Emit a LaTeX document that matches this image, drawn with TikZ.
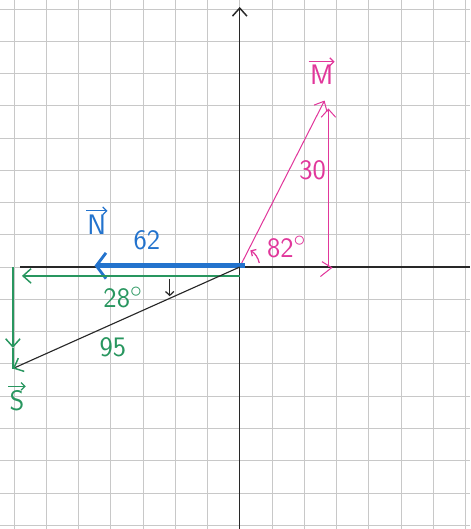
\documentclass[tikz,border=0pt]{standalone}
\usetikzlibrary{arrows.meta}
\definecolor{penblue}{RGB}{35,115,205}
\definecolor{pengreen}{RGB}{40,150,95}
\definecolor{penpink}{RGB}{225,55,155}
\definecolor{pengrid}{RGB}{200,200,200}
\definecolor{penblack}{RGB}{40,40,40}

\begin{document}
\begin{tikzpicture}[x=1cm, y=0.983cm,
    barb/.style={-{Straight Barb[length=2.5mm, width=4.5mm]}},
    vecbar/.style={line width=1.1pt, -{Straight Barb[length=1.2mm, width=2.4mm]}},
    lbl/.style={font=\Huge\sffamily, inner sep=1pt}]
    \useasboundingbox (-7.43,-8.26) rectangle (7.15,8.42);
    % Graph paper
    \draw[pengrid, line width=0.6pt] (-7.43,-8.26) grid (7.15,8.42);

    % Axes
    \coordinate (O) at (0,0);
    \coordinate (xl) at (-6.8,0); \coordinate (xr) at (7.15,0);
    \coordinate (yb) at (0,-8.26); \coordinate (yt) at (0,8.2);
    \draw[penblack, line width=1.3pt] (xl)--(xr);
    \draw[penblack, line width=1.3pt, barb] (yb)--(yt);

    % M: pink, with its vertical component
    \coordinate (M) at (2.63,5.25);
    \coordinate (Mb) at (2.75,0); \coordinate (Mt) at (2.75,5.0);
    \draw[penpink, line width=0.9pt, barb] (O)--(M);
    \draw[penpink, line width=0.9pt, barb] (Mb)--(Mt);
    \draw[penpink, line width=0.9pt] (2.55,0.17)--(2.85,-0.02)--(2.5,-0.3);
    \draw[penpink, line width=1.1pt, -{Straight Barb[length=1.2mm, width=2.4mm]}]
        (12:0.62) arc[start angle=12, end angle=58, radius=0.62];

    % N: blue
    \coordinate (Nr) at (0.15,0.04); \coordinate (N) at (-4.5,0.04);
    \draw[penblue, line width=4.5pt,
        -{Straight Barb[length=3mm, width=8mm, line width=2.5pt]}] (Nr)--(N);

    % S: black, with green components
    \coordinate (S) at (-7.03,-3.2);
    \coordinate (Sh) at (0,-0.28); \coordinate (Sl) at (-6.75,-0.28);
    \coordinate (Sv) at (-7.03,0); \coordinate (Sm) at (-7.03,-2.55);
    \draw[pengreen, line width=1.3pt, barb] (Sh)--(Sl);
    \draw[pengreen, line width=1.3pt, barb] (Sv)--(Sm);
    \draw[pengreen, line width=1.3pt] (Sm)--(S);
    \draw[penblack, line width=1pt,
        -{Straight Barb[color=pengreen, length=2.5mm, width=4.5mm, line width=1.3pt]}] (O)--(S);
    \coordinate (a1) at (-2.17,-0.38); \coordinate (a2) at (-2.17,-0.92);
    \draw[penblack, line width=1.1pt, -{Straight Barb[length=1.2mm, width=2.6mm]}] (a1)--(a2);

    % Labels
    \node[lbl, text=penpink] (lM) at (2.54,6.05) {M};
    \node[lbl, text=penpink] (l30) at (2.26,3.05) {30};
    \node[lbl, text=penpink] (l82) at (1.45,0.63) {82$^{\circ}$};
    \node[lbl, text=penblue] (lN) at (-4.43,1.35) {N};
    \node[lbl, text=penblue] (l62) at (-2.88,0.85) {62};
    \node[lbl, text=pengreen] (l28) at (-3.62,-0.95) {28$^{\circ}$};
    \node[lbl, text=pengreen] (l95) at (-3.93,-2.52) {95};
    \node[lbl, text=pengreen] (lS) at (-6.9,-4.2) {S};
    % vector bars over the letters
    \foreach \n/\c in {lM/penpink, lN/penblue, lS/pengreen}
        \draw[\c, vecbar] ([yshift=2pt]\n.north west) -- ([yshift=2pt]\n.north east);
\end{tikzpicture}
\end{document}
